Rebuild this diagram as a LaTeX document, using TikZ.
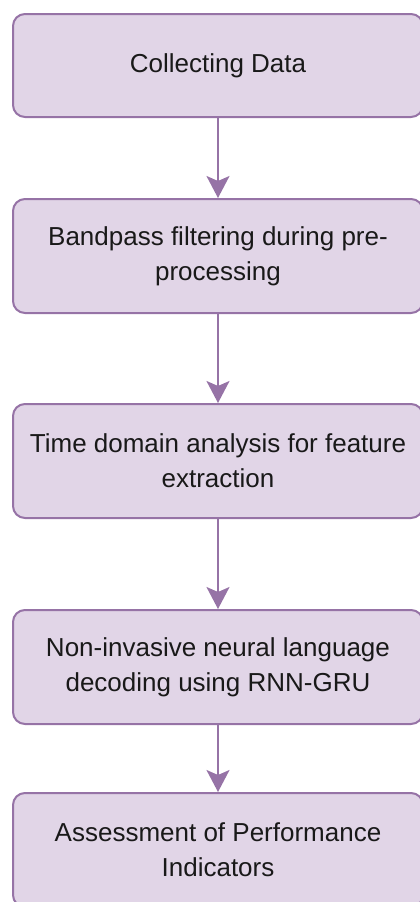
\documentclass[tikz,border=0pt]{standalone}
\usepackage{fontspec}
\setmainfont{Liberation Sans}
\definecolor{PipelineLilac}{HTML}{E1D5E7}
\definecolor{PipelinePurple}{HTML}{9673A6}
\usepackage{tikz}
\usetikzlibrary{arrows.meta,positioning}

\tikzset{
  stagebox/.style={
    fill=PipelineLilac,
    draw=PipelinePurple,
    line width=1pt,
    rounded corners=6pt,
    minimum width=205pt,
    minimum height=57pt,
    align=center,
    text=black!90,
    font=\fontsize{13}{17.5}\selectfont
  },
  flowarrow/.style={
    draw=PipelinePurple,
    line width=1pt,
    -{Stealth[width=11.5pt,length=11pt,inset=2.5pt]}
  }
}

\begin{document}
\begin{tikzpicture}
    \useasboundingbox (0,0) rectangle (209.5pt,-451pt);

    \node[stagebox, minimum height=51.5pt] (collect) at (109pt,-32.75pt) {Collecting Data};
    \node[stagebox, below=40pt of collect] (bandpass) {%
      Bandpass filtering during pre-\\
      processing};
    \node[stagebox, below=44.5pt of bandpass] (timedomain) {%
      Time domain analysis for feature\\
      extraction};
    \node[stagebox, below=45pt of timedomain] (decoding) {%
      Non-invasive neural language\\
      decoding using RNN-GRU};
    \node[stagebox, below=33.5pt of decoding] (assess) {%
      Assessment of Performance\\
      Indicators};

    \draw[flowarrow] (collect) -- (bandpass);
    \draw[flowarrow] (bandpass) -- (timedomain);
    \draw[flowarrow] (timedomain) -- (decoding);
    \draw[flowarrow] (decoding) -- (assess);
  \end{tikzpicture}
\end{document}
